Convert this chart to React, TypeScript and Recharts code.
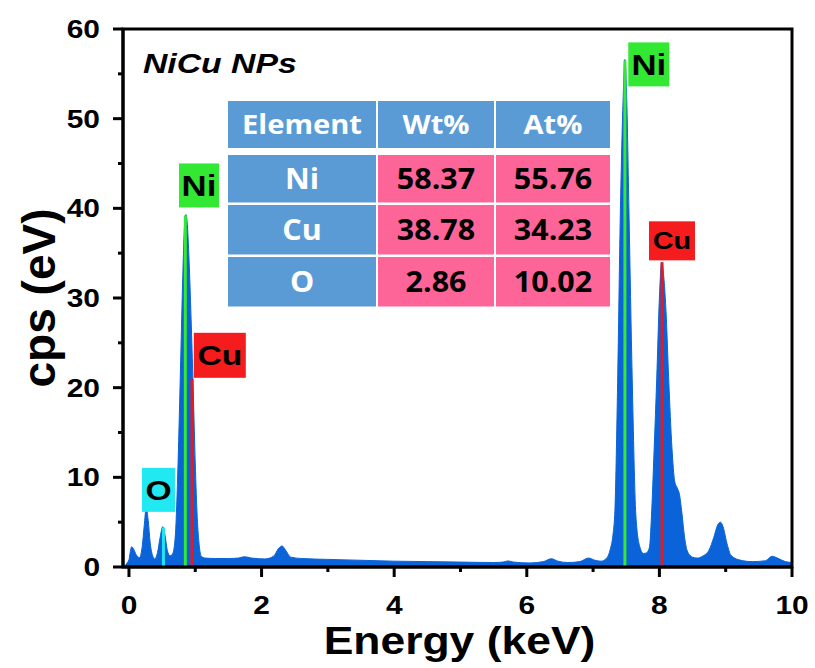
import React from 'react';
import {
  ComposedChart, Area, XAxis, YAxis, ReferenceLine, ReferenceDot, ReferenceArea,
} from 'recharts';

// EDS spectrum (keV, cps)
const energy = [
  -0.05, 0.0, 0.02, 0.04, 0.07, 0.11, 0.16, 0.2, 0.23, 0.26, 0.29, 0.32, 0.36, 0.39, 0.43, 0.47,
  0.51, 0.54, 0.58, 0.62, 0.66, 0.7, 0.74, 0.78, 0.81, 0.84, 0.86, 0.88, 0.91, 0.94, 0.97, 1.0,
  1.03, 1.06, 1.09, 1.15, 1.3, 1.5, 1.65, 1.74, 1.85, 2.05, 2.18, 2.26, 2.31, 2.36, 2.44, 2.6,
  3.0, 3.5, 4.0, 4.5, 5.0, 5.5, 5.64, 5.72, 5.8, 6.05, 6.25, 6.37, 6.47, 6.62, 6.8, 6.93,
  7.03, 7.12, 7.2, 7.26, 7.3, 7.33, 7.37, 7.41, 7.45, 7.48, 7.51, 7.54, 7.59, 7.645, 7.7, 7.76,
  7.81, 7.85, 7.88, 7.92, 7.96, 8.0, 8.035, 8.07, 8.1, 8.14, 8.19, 8.23, 8.27, 8.3, 8.34, 8.38,
  8.42, 8.5, 8.57, 8.65, 8.75, 8.82, 8.88, 8.92, 8.96, 9.02, 9.08, 9.2, 9.4, 9.6, 9.7, 9.78,
  9.9, 10.0,
];
const counts = [
  0.3, 0.8, 1.7, 2.25, 2.0, 1.35, 1.05, 2.3, 4.6, 6.6, 5.2, 2.7, 1.2, 0.9, 1.6, 3.3,
  4.5, 3.7, 1.8, 1.25, 1.5, 3.6, 11.5, 23, 32, 38.3, 39.3, 38.2, 33.5, 27, 19.5, 11.5,
  5.5, 2.4, 1.2, 1.0, 0.95, 0.95, 1.0, 1.15, 1.0, 0.9, 1.2, 2.1, 2.35, 1.9, 1.1, 0.95,
  0.85, 0.75, 0.65, 0.6, 0.55, 0.5, 0.55, 0.68, 0.55, 0.45, 0.6, 0.92, 0.65, 0.5, 0.6, 1.0,
  0.75, 0.65, 0.95, 2.0, 3.6, 6.5, 20.5, 39, 51.5, 56.6, 51.5, 40, 21, 5.8, 2.4, 1.5,
  1.6, 2.2, 5.6, 13, 21, 30, 34, 32, 28.5, 21, 13.2, 9.6, 8.8, 8.2, 6, 3.3,
  1.8, 1.1, 1.0, 1.2, 1.9, 3.3, 4.7, 5.0, 4.5, 2.6, 1.3, 0.8, 0.6, 0.7, 1.2, 1.0,
  0.6, 0.5,
];

const xTicks = [0, 1, 2, 3, 4, 5, 6, 7, 8, 9, 10];
const yTicks = [0, 5, 10, 15, 20, 25, 30, 35, 40, 45, 50, 55, 60];

// element marker lines
const lineEnergy = [0.52, 0.85, 0.95, 7.48, 8.04];
const lineTop = [4.4, 39.2, 21, 56.5, 34];
const lineColor = ['#1ee6f0', '#35e835', '#e01b24', '#35e835', '#e01b24'];

// element tags (centre energy, bottom of box in cps)
const tagText = ['O', 'Ni', 'Cu', 'Ni', 'Cu'];
const tagEnergy = [0.445, 1.056, 1.37, 7.84, 8.19];
const tagBottom = [6.15, 40.1, 21.1, 53.6, 34.2];
const tagColor = ['#22e8f2', '#33e833', '#f41c1c', '#33e833', '#f41c1c'];
const tagW = [33, 40, 52, 41, 46];
const tagH = [44, 44, 45, 44, 39];
const tagFont = [28, 29, 28, 29, 24];

// composition table
const tableHead = ['Element', 'Wt%', 'At%'];
const tableElement = ['Ni', 'Cu', 'O'];
const tableWt = ['58.37', '38.78', '2.86'];
const tableAt = ['55.76', '34.23', '10.02'];

const spectrum = energy.map((e, i) => ({ e, c: counts[i] }));

const FONT = '"Liberation Sans", Arial, sans-serif';
const BLUE = '#0b63d9';

function Wide({ x, y, size, sx = 1.18, anchor = 'middle', fill = '#000', italic = false, family = FONT, children }: any) {
  return (
    <text
      transform={`translate(${x},${y}) scale(${sx},1)`}
      textAnchor={anchor}
      fontSize={size}
      fontFamily={family}
      fontWeight="bold"
      fontStyle={italic ? 'italic' : 'normal'}
      fill={fill}
    >
      {children}
    </text>
  );
}

function XTick({ x, y, payload }: any) {
  const major = payload.value % 2 === 0;
  return (
    <g>
      <line x1={x} x2={x} y1={y} y2={y + (major ? 10 : 5)} stroke="#000" strokeWidth={3} />
      {major && <Wide x={x} y={y + 47} size={26} sx={1.15}>{payload.value}</Wide>}
    </g>
  );
}

function YTick({ x, y, payload }: any) {
  const major = payload.value % 10 === 0;
  return (
    <g>
      <line x1={x} x2={x - (major ? 10 : 5)} y1={y} y2={y} stroke="#000" strokeWidth={3} />
      {major && <Wide x={x - 23} y={y + 9} size={26} sx={1.15} anchor="end">{payload.value}</Wide>}
    </g>
  );
}

function XTitle({ viewBox }: any) {
  return (
    <Wide x={viewBox.x + viewBox.width / 2 + 2} y={viewBox.y + 87} size={39} sx={1.14}>
      Energy (keV)
    </Wide>
  );
}

function YTitle({ viewBox }: any) {
  const cy = viewBox.y + viewBox.height / 2;
  return (
    <text
      transform={`translate(55,${cy}) rotate(-90)`}
      textAnchor="middle"
      fontSize={46}
      fontFamily={FONT}
      fontWeight="bold"
    >
      cps (eV)
    </text>
  );
}

function Tag({ cx, cy, i }: any) {
  const w = tagW[i];
  const h = tagH[i];
  const fs = tagFont[i];
  return (
    <g>
      <rect x={cx - w / 2} y={cy - h} width={w} height={h} fill={tagColor[i]} />
      <Wide x={cx} y={cy - h / 2 + fs * 0.36} size={fs} sx={1.2}>{tagText[i]}</Wide>
    </g>
  );
}

function Table() {
  const colX = [228, 378, 496];
  const colW = [148, 116, 114];
  const rowY = [101, 155, 205, 257];
  const rowH = [47, 47.5, 49.5, 49.5];
  const rows = [tableHead, ...tableElement.map((el, i) => [el, tableWt[i], tableAt[i]])];
  return (
    <g>
      {rows.map((row, r) =>
        row.map((txt, c) => {
          const head = r === 0 || c === 0;
          const fs = r === 0 ? 26 : 29;
          return (
            <g key={`${r}-${c}`}>
              <rect x={colX[c]} y={rowY[r]} width={colW[c]} height={rowH[r]} fill={head ? '#5b9bd5' : '#fd6598'} />
              <Wide
                x={colX[c] + colW[c] / 2}
                y={rowY[r] + rowH[r] / 2 + fs * 0.36}
                size={fs}
                sx={r === 0 ? 1.12 : 1.05}
                fill={head ? '#fff' : '#000'}
                family='"Open Sans", "Noto Sans", sans-serif'
              >
                {txt}
              </Wide>
            </g>
          );
        })
      )}
    </g>
  );
}

export default function App() {
  return (
    <div style={{ position: 'absolute', left: 0, top: 0, width: 815, height: 668, background: '#fff' }}>
      <ComposedChart width={815} height={668} data={spectrum} margin={{ top: 29, right: 23, bottom: 0, left: 0 }}>
        <XAxis
          dataKey="e"
          type="number"
          domain={[-0.09, 10]}
          ticks={xTicks}
          interval={0}
          allowDataOverflow
          height={101}
          tickSize={0}
          tickMargin={0}
          tickLine={false}
          axisLine={{ stroke: '#000', strokeWidth: 3 }}
          tick={<XTick />}
          label={<XTitle />}
        />
        <YAxis
          type="number"
          domain={[0, 60]}
          ticks={yTicks}
          interval={0}
          allowDataOverflow
          width={123}
          tickSize={0}
          tickMargin={0}
          tickLine={false}
          axisLine={{ stroke: '#000', strokeWidth: 3 }}
          tick={<YTick />}
          label={<YTitle />}
        />
        <Area
          dataKey="c"
          type="monotone"
          stroke={BLUE}
          strokeWidth={1}
          fill={BLUE}
          fillOpacity={1}
          isAnimationActive={false}
        />
        {lineEnergy.map((e, i) => (
          <ReferenceLine
            key={`l${i}`}
            segment={[{ x: e, y: 0 }, { x: e, y: lineTop[i] }]}
            stroke={lineColor[i]}
            strokeWidth={3}
          />
        ))}
        {tagText.map((t, i) => (
          <ReferenceDot
            key={`t${i}`}
            x={tagEnergy[i]}
            y={tagBottom[i]}
            r={0}
            shape={(p: any) => <Tag cx={p.cx} cy={p.cy} i={i} />}
          />
        ))}
        <ReferenceArea x1={-0.09} x2={10} y1={0} y2={60} fill="none" stroke="#000" strokeWidth={3} />
      </ComposedChart>
      <svg width={815} height={668} style={{ position: 'absolute', left: 0, top: 0, pointerEvents: 'none' }}>
        <Wide x={143} y={73} size={27} sx={1.25} anchor="start" italic>NiCu NPs</Wide>
        <Table />
      </svg>
    </div>
  );
}
